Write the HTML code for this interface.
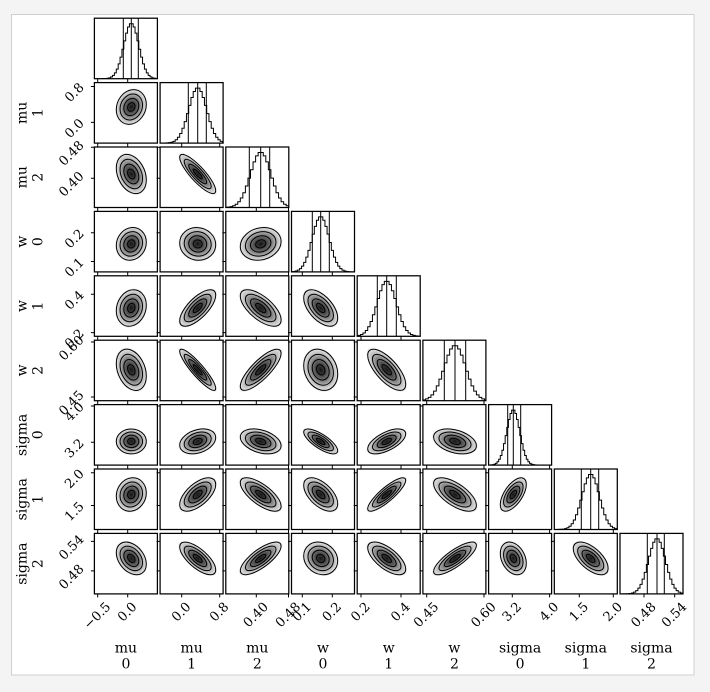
<!DOCTYPE html>
<html><head><meta charset="utf-8"><style>
html,body{margin:0;padding:0;background:#f4f4f4;}
svg{display:block;}
text{font-family:"DejaVu Serif","Liberation Serif",serif;fill:#000;}
.t{font-size:13px;}
.l{font-size:14px;}
</style></head><body>
<svg width="710" height="692" viewBox="0 0 710 692" xmlns="http://www.w3.org/2000/svg" xmlns:xlink="http://www.w3.org/1999/xlink">
<defs>
<radialGradient id="rg" cx="50%" cy="50%" r="50%">
<stop offset="0" stop-color="#141414"/>
<stop offset="0.25" stop-color="#3e3e3e"/>
<stop offset="0.5" stop-color="#727272"/>
<stop offset="0.75" stop-color="#b2b2b2"/>
<stop offset="1" stop-color="#e4e4e4"/>
</radialGradient>
<g id="b">
<circle r="2.15" fill="#f0f0f0"/>
<circle r="2" fill="url(#rg)"/>
<circle r="2" fill="none" stroke="#000" stroke-width="1" vector-effect="non-scaling-stroke"/>
<circle r="1.5" fill="none" stroke="#000" stroke-width="1" vector-effect="non-scaling-stroke"/>
<circle r="1" fill="none" stroke="#000" stroke-width="1" vector-effect="non-scaling-stroke"/>
<circle r="0.5" fill="none" stroke="#000" stroke-width="1" vector-effect="non-scaling-stroke"/>
</g>
<path id="h" fill="none" stroke="#000" stroke-width="1" vector-effect="non-scaling-stroke" d="M-4,0 V-0.0006 H-3.75 V-0.0014 H-3.5 V-0.0034 H-3.25 V-0.0076 H-3 V-0.016 H-2.75 V-0.032 H-2.5 V-0.0596 H-2.25 V-0.1046 H-2 V-0.1724 H-1.75 V-0.2671 H-1.5 V-0.3886 H-1.25 V-0.5311 H-1 V-0.6819 H-0.75 V-0.8226 H-0.5 V-0.9321 H-0.25 V-0.9922 H0.25 V-0.9321 H0.5 V-0.8226 H0.75 V-0.6819 H1 V-0.5311 H1.25 V-0.3886 H1.5 V-0.2671 H1.75 V-0.1724 H2 V-0.1046 H2.25 V-0.0596 H2.5 V-0.032 H2.75 V-0.016 H3 V-0.0076 H3.25 V-0.0034 H3.5 V-0.0014 H3.75 V-0.0006 H4 V0"/>
<clipPath id="k0"><rect x="94.4" y="18.2" width="63" height="60.5"/></clipPath>
<clipPath id="k1"><rect x="160.1" y="82.6" width="63" height="60.5"/></clipPath>
<clipPath id="k2"><rect x="225.8" y="147" width="63" height="60.5"/></clipPath>
<clipPath id="k3"><rect x="291.5" y="211.4" width="63" height="60.5"/></clipPath>
<clipPath id="k4"><rect x="357.2" y="275.8" width="63" height="60.5"/></clipPath>
<clipPath id="k5"><rect x="422.9" y="340.2" width="63" height="60.5"/></clipPath>
<clipPath id="k6"><rect x="488.6" y="404.6" width="63" height="60.5"/></clipPath>
<clipPath id="k7"><rect x="554.3" y="469" width="63" height="60.5"/></clipPath>
<clipPath id="k8"><rect x="620" y="533.4" width="63" height="60.5"/></clipPath>
</defs>

<rect x="11.5" y="14.5" width="682.5" height="660.5" fill="#ffffff" stroke="#cfcfcf" stroke-width="1"/>

<!-- 2D contour blobs -->
<use href="#b" transform="matrix(7.5 -1.3 0 8.55 131.3 107)"/>

<use href="#b" transform="matrix(7.5 2.94 0 9.35 131.3 174)"/>
<use href="#b" transform="matrix(9 8.33 0 5.16 197.7 174)"/>

<use href="#b" transform="matrix(7.5 -0.82 0 8.13 131.3 243.9)"/>
<use href="#b" transform="matrix(9 0.41 0 8.16 197.7 243.9)"/>
<use href="#b" transform="matrix(10.2 -1.23 0 8.08 260.7 243.9)"/>

<use href="#b" transform="matrix(7.5 -1.37 0 9.03 131.3 308)"/>
<use href="#b" transform="matrix(9 -6.39 0 6.52 197.7 308)"/>
<use href="#b" transform="matrix(10.2 5.93 0 6.94 260.7 308)"/>
<use href="#b" transform="matrix(8.5 5.02 0 7.62 320.7 308)"/>

<use href="#b" transform="matrix(7.5 3.09 0 9.83 131.3 369.8)"/>
<use href="#b" transform="matrix(9 9.27 0 4.49 197.7 369.8)"/>
<use href="#b" transform="matrix(10.2 -8.24 0 6.18 260.7 369.8)"/>
<use href="#b" transform="matrix(8.5 2.06 0 10.09 320.7 369.8)"/>
<use href="#b" transform="matrix(9.5 7.21 0 7.36 386.7 369.8)"/>

<use href="#b" transform="matrix(7.5 0 0 6.23 131.3 441.4)"/>
<use href="#b" transform="matrix(9 -1.87 0 5.94 197.7 441.4)"/>
<use href="#b" transform="matrix(10.2 2.18 0 5.84 260.7 441.4)"/>
<use href="#b" transform="matrix(8.5 4.67 0 4.12 320.7 441.4)"/>
<use href="#b" transform="matrix(9.5 -3.74 0 4.98 386.7 441.4)"/>
<use href="#b" transform="matrix(10.7 2.18 0 5.84 455 441.4)"/>

<use href="#b" transform="matrix(7.5 -0.84 0 8.31 131.3 494.5)"/>
<use href="#b" transform="matrix(9 -5.01 0 6.68 197.7 494.5)"/>
<use href="#b" transform="matrix(10.2 5.85 0 5.96 260.7 494.5)"/>
<use href="#b" transform="matrix(8.5 4.59 0 6.97 320.7 494.5)"/>
<use href="#b" transform="matrix(9.5 -7.1 0 4.4 386.7 494.5)"/>
<use href="#b" transform="matrix(10.7 5.43 0 6.35 455 494.5)"/>
<use href="#b" transform="matrix(6.5 -5.01 0 6.68 513.3 494.5)"/>

<use href="#b" transform="matrix(7.5 2.86 0 7.65 131.3 558.4)"/>
<use href="#b" transform="matrix(9 5.72 0 5.83 197.7 558.4)"/>
<use href="#b" transform="matrix(10.2 -6.13 0 5.4 260.7 558.4)"/>
<use href="#b" transform="matrix(8.5 1.23 0 8.08 320.7 558.4)"/>
<use href="#b" transform="matrix(9.5 5.31 0 6.21 386.7 558.4)"/>
<use href="#b" transform="matrix(10.7 -6.54 0 4.9 455 558.4)"/>
<use href="#b" transform="matrix(6.5 2.45 0 7.79 513.3 558.4)"/>
<use href="#b" transform="matrix(8.7 4.9 0 6.54 590.7 558.4)"/>

<!-- histograms -->
<g clip-path="url(#k0)"><use href="#h" transform="matrix(7.5 0 0 55.4 131.3 78.7)"/></g>
<g clip-path="url(#k1)"><use href="#h" transform="matrix(9 0 0 55.4 197.7 143.1)"/></g>
<g clip-path="url(#k2)"><use href="#h" transform="matrix(10.2 0 0 55.4 260.7 207.5)"/></g>
<g clip-path="url(#k3)"><use href="#h" transform="matrix(8.5 0 0 55.4 320.7 271.9)"/></g>
<g clip-path="url(#k4)"><use href="#h" transform="matrix(9.5 0 0 55.4 386.7 336.3)"/></g>
<g clip-path="url(#k5)"><use href="#h" transform="matrix(10.7 0 0 55.4 455 400.7)"/></g>
<g clip-path="url(#k6)"><use href="#h" transform="matrix(6.5 0 0 55.4 513.3 465.1)"/></g>
<g clip-path="url(#k7)"><use href="#h" transform="matrix(8.7 0 0 55.4 590.7 529.5)"/></g>
<g clip-path="url(#k8)"><use href="#h" transform="matrix(8.5 0 0 55.4 657 593.9)"/></g>

<!-- quantile lines -->
<path fill="none" stroke="#000" stroke-width="1" d="
M123.3 18.2V78.7M131.3 18.2V78.7M138.3 18.2V78.7
M188.3 82.6V143.1M197.7 82.6V143.1M206.3 82.6V143.1
M249.3 147V207.5M260.7 147V207.5M269.7 147V207.5
M312.3 211.4V271.9M320.7 211.4V271.9M329.3 211.4V271.9
M377.3 275.8V336.3M386.7 275.8V336.3M396.3 275.8V336.3
M444.3 340.2V400.7M455 340.2V400.7M465.7 340.2V400.7
M507.7 404.6V465.1M513.3 404.6V465.1M520.7 404.6V465.1
M581.3 469V529.5M590.7 469V529.5M598.7 469V529.5
M647.3 533.4V593.9M657 533.4V593.9M664.3 533.4V593.9"/>

<!-- panel borders -->
<g fill="none" stroke="#000" stroke-width="1.25">
<rect x="94.4" y="18.2" width="63" height="60.5"/>
<rect x="94.4" y="82.6" width="63" height="60.5"/><rect x="160.1" y="82.6" width="63" height="60.5"/>
<rect x="94.4" y="147" width="63" height="60.5"/><rect x="160.1" y="147" width="63" height="60.5"/><rect x="225.8" y="147" width="63" height="60.5"/>
<rect x="94.4" y="211.4" width="63" height="60.5"/><rect x="160.1" y="211.4" width="63" height="60.5"/><rect x="225.8" y="211.4" width="63" height="60.5"/><rect x="291.5" y="211.4" width="63" height="60.5"/>
<rect x="94.4" y="275.8" width="63" height="60.5"/><rect x="160.1" y="275.8" width="63" height="60.5"/><rect x="225.8" y="275.8" width="63" height="60.5"/><rect x="291.5" y="275.8" width="63" height="60.5"/><rect x="357.2" y="275.8" width="63" height="60.5"/>
<rect x="94.4" y="340.2" width="63" height="60.5"/><rect x="160.1" y="340.2" width="63" height="60.5"/><rect x="225.8" y="340.2" width="63" height="60.5"/><rect x="291.5" y="340.2" width="63" height="60.5"/><rect x="357.2" y="340.2" width="63" height="60.5"/><rect x="422.9" y="340.2" width="63" height="60.5"/>
<rect x="94.4" y="404.6" width="63" height="60.5"/><rect x="160.1" y="404.6" width="63" height="60.5"/><rect x="225.8" y="404.6" width="63" height="60.5"/><rect x="291.5" y="404.6" width="63" height="60.5"/><rect x="357.2" y="404.6" width="63" height="60.5"/><rect x="422.9" y="404.6" width="63" height="60.5"/><rect x="488.6" y="404.6" width="63" height="60.5"/>
<rect x="94.4" y="469" width="63" height="60.5"/><rect x="160.1" y="469" width="63" height="60.5"/><rect x="225.8" y="469" width="63" height="60.5"/><rect x="291.5" y="469" width="63" height="60.5"/><rect x="357.2" y="469" width="63" height="60.5"/><rect x="422.9" y="469" width="63" height="60.5"/><rect x="488.6" y="469" width="63" height="60.5"/><rect x="554.3" y="469" width="63" height="60.5"/>
<rect x="94.4" y="533.4" width="63" height="60.5"/><rect x="160.1" y="533.4" width="63" height="60.5"/><rect x="225.8" y="533.4" width="63" height="60.5"/><rect x="291.5" y="533.4" width="63" height="60.5"/><rect x="357.2" y="533.4" width="63" height="60.5"/><rect x="422.9" y="533.4" width="63" height="60.5"/><rect x="488.6" y="533.4" width="63" height="60.5"/><rect x="554.3" y="533.4" width="63" height="60.5"/><rect x="620" y="533.4" width="63" height="60.5"/>
</g>

<!-- x ticks -->
<path fill="none" stroke="#000" stroke-width="1" d="
M97.7 78.7v3.5M127.7 78.7v3.5M97.7 143.1v3.5M127.7 143.1v3.5M97.7 207.5v3.5M127.7 207.5v3.5M97.7 271.9v3.5M127.7 271.9v3.5M97.7 336.3v3.5M127.7 336.3v3.5M97.7 400.7v3.5M127.7 400.7v3.5M97.7 465.1v3.5M127.7 465.1v3.5M97.7 529.5v3.5M127.7 529.5v3.5M97.7 593.9v3.5M127.7 593.9v3.5
M181.7 143.1v3.5M219.7 143.1v3.5M181.7 207.5v3.5M219.7 207.5v3.5M181.7 271.9v3.5M219.7 271.9v3.5M181.7 336.3v3.5M219.7 336.3v3.5M181.7 400.7v3.5M219.7 400.7v3.5M181.7 465.1v3.5M219.7 465.1v3.5M181.7 529.5v3.5M219.7 529.5v3.5M181.7 593.9v3.5M219.7 593.9v3.5
M256.3 207.5v3.5M288.5 207.5v3.5M256.3 271.9v3.5M288.5 271.9v3.5M256.3 336.3v3.5M288.5 336.3v3.5M256.3 400.7v3.5M288.5 400.7v3.5M256.3 465.1v3.5M288.5 465.1v3.5M256.3 529.5v3.5M288.5 529.5v3.5M256.3 593.9v3.5M288.5 593.9v3.5
M302.3 271.9v3.5M332.3 271.9v3.5M302.3 336.3v3.5M332.3 336.3v3.5M302.3 400.7v3.5M332.3 400.7v3.5M302.3 465.1v3.5M332.3 465.1v3.5M302.3 529.5v3.5M332.3 529.5v3.5M302.3 593.9v3.5M332.3 593.9v3.5
M361 336.3v3.5M401 336.3v3.5M361 400.7v3.5M401 400.7v3.5M361 465.1v3.5M401 465.1v3.5M361 529.5v3.5M401 529.5v3.5M361 593.9v3.5M401 593.9v3.5
M426.7 400.7v3.5M484 400.7v3.5M426.7 465.1v3.5M484 465.1v3.5M426.7 529.5v3.5M484 529.5v3.5M426.7 593.9v3.5M484 593.9v3.5
M512.3 465.1v3.5M549.6 465.1v3.5M512.3 529.5v3.5M549.6 529.5v3.5M512.3 593.9v3.5M549.6 593.9v3.5
M579.3 529.5v3.5M613.3 529.5v3.5M579.3 593.9v3.5M613.3 593.9v3.5
M644 593.9v3.5M674.7 593.9v3.5"/>

<!-- y ticks -->
<path fill="none" stroke="#000" stroke-width="1" d="
M90.9 122.4h3.5M90.9 86.5h3.5
M90.9 178.2h3.5M90.9 147.3h3.5M156.6 178.2h3.5M156.6 147.3h3.5
M90.9 261.5h3.5M90.9 232.7h3.5M156.6 261.5h3.5M156.6 232.7h3.5M222.3 261.5h3.5M222.3 232.7h3.5
M90.9 332.6h3.5M90.9 294.2h3.5M156.6 332.6h3.5M156.6 294.2h3.5M222.3 332.6h3.5M222.3 294.2h3.5M288 332.6h3.5M288 294.2h3.5
M90.9 397h3.5M90.9 342h3.5M156.6 397h3.5M156.6 342h3.5M222.3 397h3.5M222.3 342h3.5M288 397h3.5M288 342h3.5M353.7 397h3.5M353.7 342h3.5
M90.9 442.3h3.5M90.9 406h3.5M156.6 442.3h3.5M156.6 406h3.5M222.3 442.3h3.5M222.3 406h3.5M288 442.3h3.5M288 406h3.5M353.7 442.3h3.5M353.7 406h3.5M419.4 442.3h3.5M419.4 406h3.5
M90.9 505.5h3.5M90.9 472.8h3.5M156.6 505.5h3.5M156.6 472.8h3.5M222.3 505.5h3.5M222.3 472.8h3.5M288 505.5h3.5M288 472.8h3.5M353.7 505.5h3.5M353.7 472.8h3.5M419.4 505.5h3.5M419.4 472.8h3.5M485.1 505.5h3.5M485.1 472.8h3.5
M90.9 570.9h3.5M90.9 541.4h3.5M156.6 570.9h3.5M156.6 541.4h3.5M222.3 570.9h3.5M222.3 541.4h3.5M288 570.9h3.5M288 541.4h3.5M353.7 570.9h3.5M353.7 541.4h3.5M419.4 570.9h3.5M419.4 541.4h3.5M485.1 570.9h3.5M485.1 541.4h3.5M550.8 570.9h3.5M550.8 541.4h3.5"/>

<!-- y tick labels -->
<g class="t" text-anchor="middle" dominant-baseline="central">
<text x="74.9" y="128.9" transform="rotate(-45 74.9 128.9)">0.0</text>
<text x="74.9" y="93" transform="rotate(-45 74.9 93)">0.8</text>
<text x="71.9" y="184.7" transform="rotate(-45 71.9 184.7)">0.40</text>
<text x="71.9" y="153.8" transform="rotate(-45 71.9 153.8)">0.48</text>
<text x="74.9" y="268" transform="rotate(-45 74.9 268)">0.1</text>
<text x="74.9" y="239.2" transform="rotate(-45 74.9 239.2)">0.2</text>
<text x="74.9" y="339.1" transform="rotate(-45 74.9 339.1)">0.2</text>
<text x="74.9" y="300.7" transform="rotate(-45 74.9 300.7)">0.4</text>
<text x="71.9" y="403.5" transform="rotate(-45 71.9 403.5)">0.45</text>
<text x="71.9" y="348.5" transform="rotate(-45 71.9 348.5)">0.60</text>
<text x="74.9" y="448.8" transform="rotate(-45 74.9 448.8)">3.2</text>
<text x="74.9" y="412.5" transform="rotate(-45 74.9 412.5)">4.0</text>
<text x="74.9" y="512" transform="rotate(-45 74.9 512)">1.5</text>
<text x="74.9" y="479.3" transform="rotate(-45 74.9 479.3)">2.0</text>
<text x="71.9" y="577.4" transform="rotate(-45 71.9 577.4)">0.48</text>
<text x="71.9" y="547.9" transform="rotate(-45 71.9 547.9)">0.54</text>
</g>

<!-- x tick labels -->
<g class="t" text-anchor="middle" dominant-baseline="central">
<text x="97.7" y="616.2" transform="rotate(-45 97.7 616.2)">−0.5</text>
<text x="127.7" y="612.4" transform="rotate(-45 127.7 612.4)">0.0</text>
<text x="181.7" y="612.4" transform="rotate(-45 181.7 612.4)">0.0</text>
<text x="219.7" y="612.4" transform="rotate(-45 219.7 612.4)">0.8</text>
<text x="256.3" y="615.3" transform="rotate(-45 256.3 615.3)">0.40</text>
<text x="288.5" y="615.3" transform="rotate(-45 288.5 615.3)">0.48</text>
<text x="302.3" y="612.4" transform="rotate(-45 302.3 612.4)">0.1</text>
<text x="332.3" y="612.4" transform="rotate(-45 332.3 612.4)">0.2</text>
<text x="361" y="612.4" transform="rotate(-45 361 612.4)">0.2</text>
<text x="401" y="612.4" transform="rotate(-45 401 612.4)">0.4</text>
<text x="426.7" y="615.3" transform="rotate(-45 426.7 615.3)">0.45</text>
<text x="484" y="615.3" transform="rotate(-45 484 615.3)">0.60</text>
<text x="512.3" y="612.4" transform="rotate(-45 512.3 612.4)">3.2</text>
<text x="549.6" y="612.4" transform="rotate(-45 549.6 612.4)">4.0</text>
<text x="579.3" y="612.4" transform="rotate(-45 579.3 612.4)">1.5</text>
<text x="613.3" y="612.4" transform="rotate(-45 613.3 612.4)">2.0</text>
<text x="644" y="615.3" transform="rotate(-45 644 615.3)">0.48</text>
<text x="674.7" y="615.3" transform="rotate(-45 674.7 615.3)">0.54</text>
</g>

<!-- x axis labels -->
<g class="l" text-anchor="middle">
<text x="125.9" y="652.5">mu</text><text x="125.9" y="668.5">0</text>
<text x="191.6" y="652.5">mu</text><text x="191.6" y="668.5">1</text>
<text x="257.3" y="652.5">mu</text><text x="257.3" y="668.5">2</text>
<text x="323" y="652.5">w</text><text x="323" y="668.5">0</text>
<text x="388.7" y="652.5">w</text><text x="388.7" y="668.5">1</text>
<text x="454.4" y="652.5">w</text><text x="454.4" y="668.5">2</text>
<text x="520.1" y="652.5">sigma</text><text x="520.1" y="668.5">0</text>
<text x="585.8" y="652.5">sigma</text><text x="585.8" y="668.5">1</text>
<text x="651.5" y="652.5">sigma</text><text x="651.5" y="668.5">2</text>
</g>

<!-- y axis labels -->
<g class="l" text-anchor="middle">
<text transform="translate(26.5 112.85) rotate(-90)">mu</text><text transform="translate(42.5 112.85) rotate(-90)">1</text>
<text transform="translate(26.5 177.25) rotate(-90)">mu</text><text transform="translate(42.5 177.25) rotate(-90)">2</text>
<text transform="translate(26.5 241.65) rotate(-90)">w</text><text transform="translate(42.5 241.65) rotate(-90)">0</text>
<text transform="translate(26.5 306.05) rotate(-90)">w</text><text transform="translate(42.5 306.05) rotate(-90)">1</text>
<text transform="translate(26.5 370.45) rotate(-90)">w</text><text transform="translate(42.5 370.45) rotate(-90)">2</text>
<text transform="translate(26.5 434.85) rotate(-90)">sigma</text><text transform="translate(42.5 434.85) rotate(-90)">0</text>
<text transform="translate(26.5 499.25) rotate(-90)">sigma</text><text transform="translate(42.5 499.25) rotate(-90)">1</text>
<text transform="translate(26.5 563.65) rotate(-90)">sigma</text><text transform="translate(42.5 563.65) rotate(-90)">2</text>
</g>
</svg>
</body></html>
